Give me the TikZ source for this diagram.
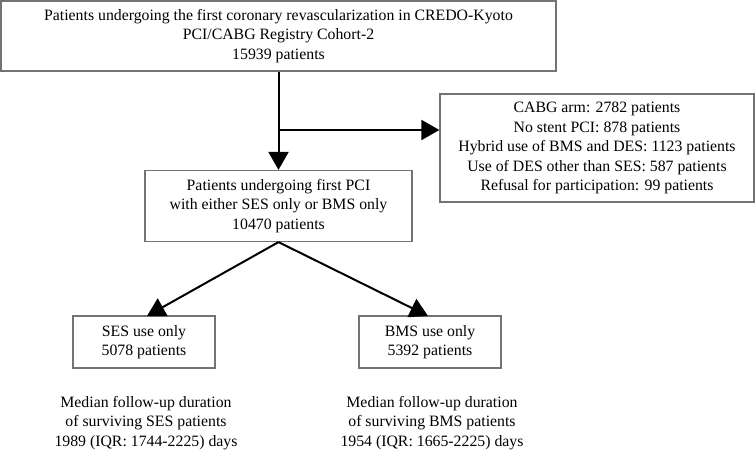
\documentclass[tikz,border=0pt]{standalone}
\usepackage{fontspec}
\setmainfont{Liberation Serif}
\usetikzlibrary{arrows.meta}
\begin{document}
\begin{tikzpicture}[x=1pt,y=-1pt,
  box/.style={draw=black!55,line width=1.2pt,rectangle,align=center,inner sep=0pt,
    font=\fontsize{15.8}{19.5}\selectfont},
  plain/.style={align=center,inner sep=0pt,font=\fontsize{15.8}{19.5}\selectfont},
  conn/.style={line width=2pt,-{Triangle[width=20pt,length=18pt]}}]
\useasboundingbox (0,0) rectangle (755,450);
\node[box,minimum width=555pt,minimum height=70pt] (top) at (278.5,36) {Patients undergoing the first coronary revascularization in CREDO-Kyoto\\PCI/CABG Registry Cohort-2\\15939 patients};
\node[box,minimum width=267pt,minimum height=71pt] (mid) at (278.5,206) {Patients undergoing first PCI\\with either SES only or BMS only\\10470 patients};
\node[box,minimum width=314pt,minimum height=108pt] (excl) at (597,148) {CABG arm: 2782 patients\\No stent PCI: 878 patients\\Hybrid use of BMS and DES: 1123 patients\\Use of DES other than SES: 587 patients\\Refusal for participation: 99 patients};
\node[box,minimum width=142pt,minimum height=52pt] (ses) at (144,342) {SES use only\\5078 patients};
\node[box,minimum width=142pt,minimum height=52pt] (bms) at (430,342) {BMS use only\\5392 patients};
\node[plain] (sesfu) at (146,423) {Median follow-up duration\\of surviving SES patients\\1989 (IQR: 1744-2225) days};
\node[plain] (bmsfu) at (432,423) {Median follow-up duration\\of surviving BMS patients\\1954 (IQR: 1665-2225) days};
\coordinate (br) at (top.south |- 0,130);
\coordinate (sestip) at (147,316);
\coordinate (bmstip) at (428,316);
\draw[conn] (top.south) -- (mid.north);
\draw[conn] (br) -- (br -| excl.west);
\draw[conn] (mid.south) -- (sestip);
\draw[conn] (mid.south) -- (bmstip);
\end{tikzpicture}
\end{document}
